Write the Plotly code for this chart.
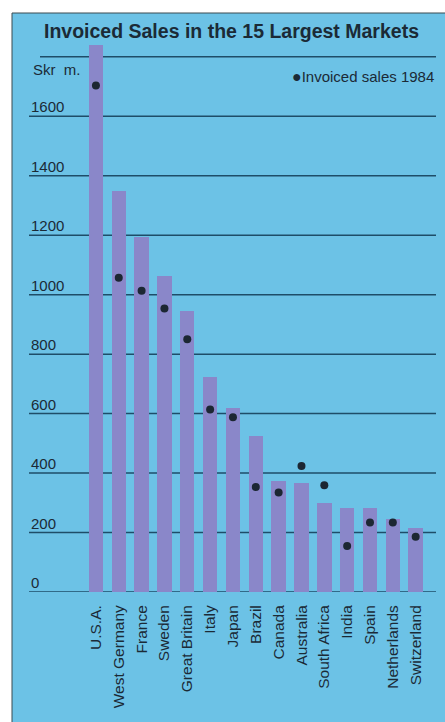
import plotly.graph_objects as go

countries = ["U.S.A.", "West Germany", "France", "Sweden", "Great Britain", "Italy",
             "Japan", "Brazil", "Canada", "Australia", "South Africa", "India",
             "Spain", "Netherlands", "Switzerland"]
sales_1985 = [1840, 1350, 1195, 1063, 944, 724, 619, 524, 374, 365, 298, 281, 281, 245, 216]
sales_1984 = [1704, 1057, 1013, 954, 850, 614, 588, 353, 335, 424, 359, 155, 234, 234, 186]
y_ticks = [0, 200, 400, 600, 800, 1000, 1200, 1400, 1600]
grid_lines = [0, 200, 400, 600, 800, 1000, 1200, 1400, 1600, 1800]

BG = "#6cc2e6"
BAR = "#8a87c9"
DOT = "#1c2733"
GRID = "#1e4d68"
TXT = "#1b2a36"
FONT = "Liberation Sans, Arial, sans-serif"

xs = list(range(len(countries)))

fig = go.Figure()
fig.add_trace(go.Bar(x=xs, y=sales_1985, marker=dict(color=BAR, line=dict(width=0)),
                     width=0.63, showlegend=False))
fig.add_trace(go.Scatter(x=xs, y=sales_1984, mode="markers",
                         marker=dict(color=DOT, size=8), showlegend=False))

shapes = []
# panel background with border
shapes.append(dict(type="rect", xref="paper", yref="paper", layer="below",
                   x0=(12 - 29) / 407, x1=(446 - 29) / 407,
                   y0=-(723 - 592) / 550,
                   y1=1 + (42 - 13) / 550,
                   fillcolor=BG, line=dict(color="#3a4a50", width=1)))
for g in grid_lines:
    x0 = 0 if g < 1800 else (40 - 29) / 407
    shapes.append(dict(type="line", xref="paper", yref="y", x0=x0, x1=1, y0=g, y1=g,
                       line=dict(color=GRID, width=1.5), layer="below"))

annotations = []
for t in y_ticks:
    annotations.append(dict(x=0, xref="paper", y=t, yref="y", text=str(t),
                            showarrow=False, xanchor="left", yanchor="bottom",
                            xshift=0, yshift=-1, font=dict(size=15, color=TXT, family=FONT)))
annotations.append(dict(x=0, xref="paper", y=1800, yref="y", text="Skr  m.",
                        showarrow=False, xanchor="left", yanchor="top",
                        xshift=2, yshift=-2, font=dict(size=15, color=TXT, family=FONT)))
annotations.append(dict(x=(231 - 29) / 407, xref="paper", y=1 + (42 - 31) / 550, yref="paper",
                        text="<b>Invoiced Sales in the 15 Largest Markets</b>",
                        showarrow=False, xanchor="center", yanchor="middle",
                        font=dict(size=19.5, color=TXT, family=FONT)))
annotations.append(dict(x=1, xref="paper", y=(592 - 77) / 550, yref="paper",
                        text="<span style='font-size:16px'>●</span>Invoiced sales 1984",
                        showarrow=False, xanchor="right", yanchor="middle",
                        xshift=0, font=dict(size=15, color=TXT, family=FONT)))

fig.update_layout(
    width=445, height=722,
    margin=dict(l=29, r=9, t=42, b=130),
    paper_bgcolor="white", plot_bgcolor="rgba(0,0,0,0)",
    shapes=shapes, annotations=annotations,
    bargap=0,
    xaxis=dict(range=[-2.93, 14.89], tickmode="array", tickvals=xs, ticktext=countries,
               tickangle=-90, showgrid=False, zeroline=False, showline=False,
               ticks="outside", ticklen=6, tickcolor="rgba(0,0,0,0)",
               tickfont=dict(size=15.5, color=TXT, family=FONT), fixedrange=True),
    yaxis=dict(range=[0, 1850], showgrid=False, zeroline=False, showline=False,
               showticklabels=False, fixedrange=True),
)

fig.write_html("out.html")
